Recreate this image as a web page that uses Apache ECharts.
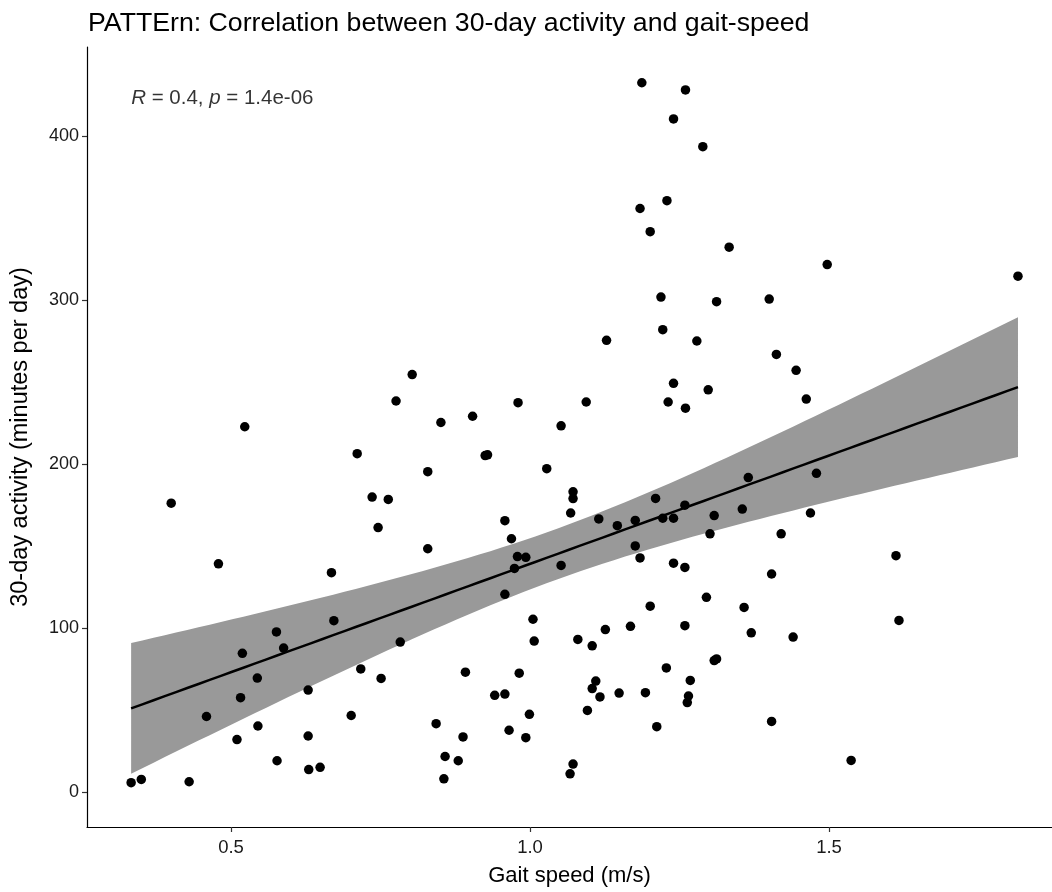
<!DOCTYPE html>
<html>
<head>
<meta charset="utf-8">
<script src="https://cdn.jsdelivr.net/npm/echarts@6/dist/echarts.min.js"></script>
<style>
html,body{margin:0;padding:0;background:#fff;overflow:hidden;}
#chart{width:1052px;height:892px;}
</style>
</head>
<body>
<div id="chart"></div>
<script>
// ---- Data ----
const gaitSpeed = [
  0.479,0.668,0.672,0.576,0.588,0.519,0.783,0.544,0.717,0.751,0.516,0.629,0.459,0.701,0.545,0.510,0.629,0.577,0.630,0.649,0.333,0.350,0.430,
  1.128,0.803,0.776,0.980,1.094,1.240,1.231,0.851,0.904,1.052,0.925,0.929,0.829,1.028,0.763,0.746,1.072,1.072,1.068,0.958,
  0.969,0.829,0.979,0.993,0.974,1.052,1.115,1.146,1.176,1.210,1.222,1.240,1.176,1.184,1.240,0.958,1.005,1.007,1.080,1.104,
  1.126,1.168,1.201,1.228,0.892,0.982,0.941,0.958,1.110,1.104,1.117,1.149,1.193,1.096,0.999,0.843,0.888,0.965,0.993,1.212,
  0.858,0.880,0.856,1.072,1.067,
  1.187,1.260,1.240,1.289,1.229,1.184,1.201,1.333,1.497,1.219,1.312,1.400,1.222,1.279,1.412,1.445,1.298,1.260,1.462,
  1.259,1.365,1.479,1.308,1.355,1.469,1.301,1.420,1.259,1.404,1.612,1.295,1.358,1.259,1.370,1.440,1.617,1.308,1.312,1.268,
  1.265,1.263,1.404,1.537,
  1.816,0.523,0.400,0.711,0.736
];
const activity = [
  139.4,134.0,104.7,97.9,88.0,84.8,91.7,69.7,75.3,69.5,57.8,62.4,46.3,46.9,40.5,32.2,34.4,19.3,13.9,15.3,5.9,7.9,6.5,
  275.7,254.8,238.7,237.7,238.1,249.5,238.1,225.6,229.4,223.6,205.4,205.9,195.6,197.4,178.7,161.5,183.3,179.2,170.4,165.7,
  154.7,148.6,143.8,143.4,136.6,138.4,166.8,162.7,165.9,179.3,167.2,167.2,150.3,143.0,139.8,120.8,105.6,92.3,93.3,89.4,
  99.3,101.3,113.6,75.9,73.3,72.7,59.2,60.0,67.9,63.3,58.2,60.6,60.8,50.0,47.6,41.9,33.8,37.9,33.4,40.1,
  21.9,19.3,8.3,17.3,11.3,
  432.8,428.4,410.7,393.8,360.9,356.1,342.0,332.5,321.9,302.1,299.3,300.9,282.2,275.3,267.1,257.4,245.5,234.3,239.9,
  175.2,192.0,194.6,168.8,172.8,170.4,157.7,157.7,137.2,133.2,144.4,119.0,112.8,101.7,97.3,94.7,104.9,80.4,81.4,68.3,
  58.8,54.8,43.3,19.5,
  314.8,223.0,176.4,206.6,180.1
];
const xTickValues = [0.5, 1.0, 1.5];
const yTickValues = [0, 100, 200, 300, 400];
const titleText = 'PATTErn: Correlation between 30-day activity and gait-speed';
const xAxisTitle = 'Gait speed (m/s)';
const yAxisTitle = '30-day activity (minutes per day)';
const corLabel = '{i|R} = 0.4, {i|p} = 1.4e-06';

// ---- Linear fit + 95% confidence band (computed from the data) ----
const n = gaitSpeed.length;
const xbar = gaitSpeed.reduce((a,b)=>a+b,0)/n;
const ybar = activity.reduce((a,b)=>a+b,0)/n;
let sxx=0, sxy=0;
for (let i=0;i<n;i++){ sxx += (gaitSpeed[i]-xbar)**2; sxy += (gaitSpeed[i]-xbar)*(activity[i]-ybar); }
const slope = sxy/sxx, intercept = ybar - slope*xbar;
let sse=0;
for (let i=0;i<n;i++){ const r = activity[i]-(intercept+slope*gaitSpeed[i]); sse += r*r; }
const sRes = Math.sqrt(sse/(n-2));
const tCrit = 1.978;
const xMin = Math.min(...gaitSpeed), xMax = Math.max(...gaitSpeed), yMax = Math.max(...activity);
const fitLine = [], bandUpper = [], bandLower = [];
for (let k=0;k<80;k++){
  const x = xMin + (xMax-xMin)*k/79;
  const yhat = intercept + slope*x;
  const se = sRes*Math.sqrt(1/n + (x-xbar)**2/sxx);
  fitLine.push([x, yhat]);
  bandUpper.push([x, yhat + tCrit*se]);
  bandLower.push([x, yhat - tCrit*se]);
}

const FONT = '"Liberation Sans", Arial, sans-serif';
const chart = echarts.init(document.getElementById('chart'), null, {renderer:'canvas'});
chart.setOption({
  backgroundColor:'#ffffff',
  animation:false,
  title:{
    text:titleText, left:88, top:10, padding:0,
    textStyle:{fontFamily:FONT, fontSize:26.7, fontWeight:'normal', color:'#000'}
  },
  grid:{left:87, top:47, right:0, bottom:58, containLabel:false},
  xAxis:{
    type:'value', min:0.2592, max:1.8729,
    name:xAxisTitle, nameLocation:'middle', nameGap:38,
    nameTextStyle:{fontFamily:FONT, fontSize:22, color:'#000'},
    axisLine:{show:true, onZero:false, lineStyle:{color:'#000', width:1.2}},
    axisTick:{show:true, length:5, lineStyle:{color:'#333', width:1.2}, customValues:xTickValues},
    axisLabel:{fontFamily:FONT, fontSize:18.5, color:'#1a1a1a', margin:11, customValues:xTickValues,
      formatter:v=>Number(v).toFixed(1)},
    splitLine:{show:false}
  },
  yAxis:{
    type:'value', min:-21.1, max:454.6,
    name:yAxisTitle, nameLocation:'middle', nameGap:54,
    nameTextStyle:{fontFamily:FONT, fontSize:23.5, color:'#000'},
    axisLine:{show:true, onZero:false, lineStyle:{color:'#000', width:1.2}},
    axisTick:{show:true, length:5, lineStyle:{color:'#333', width:1.2}, customValues:yTickValues},
    axisLabel:{fontFamily:FONT, fontSize:18, color:'#1a1a1a', margin:8, customValues:yTickValues,
      formatter:v=>String(Math.round(v))},
    splitLine:{show:false}
  },
  series:[
    {
      type:'custom', z:1, silent:true,
      data:[0],
      renderItem:function(params, api){
        const pts = bandUpper.map(p=>api.coord(p)).concat(bandLower.slice().reverse().map(p=>api.coord(p)));
        return {type:'polygon', shape:{points:pts}, style:{fill:'#999999', stroke:null}};
      }
    },
    {
      type:'scatter', z:3, symbol:'circle', symbolSize:9.5,
      itemStyle:{color:'#000', opacity:1},
      data:gaitSpeed.map((x,i)=>[x, activity[i]])
    },
    {
      type:'line', z:4, showSymbol:false, symbol:'none', smooth:false,
      lineStyle:{color:'#000', width:2.5},
      data:fitLine
    },
    {
      type:'scatter', z:5, symbolSize:0, silent:true,
      data:[[xMin, yMax]],
      label:{show:true, position:'right', distance:0, offset:[0,16],
        formatter:corLabel, fontFamily:FONT, fontSize:20.5, color:'#000',
        rich:{i:{fontStyle:'italic', fontFamily:FONT, fontSize:20.5, color:'#000'}}}
    }
  ]
});
</script>
</body>
</html>
